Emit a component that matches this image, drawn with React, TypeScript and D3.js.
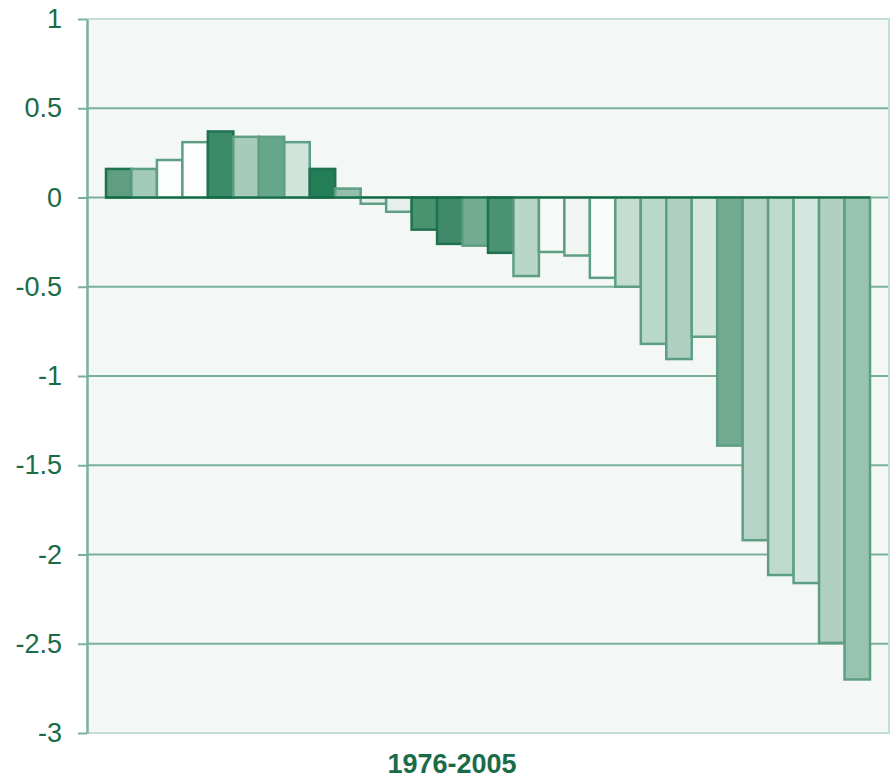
import React, { useEffect, useRef } from "react";
import { axisLeft, range, scaleBand, scaleLinear, select } from "d3";

// data
const years = range(1976, 2006).map(String);
const values = [
  0.16, 0.16, 0.21, 0.31, 0.37, 0.34, 0.34, 0.31, 0.16, 0.05,
  -0.035, -0.08, -0.18, -0.26, -0.27, -0.31, -0.44, -0.305, -0.325, -0.45,
  -0.5, -0.82, -0.905, -0.78, -1.39, -1.92, -2.115, -2.16, -2.495, -2.7,
];
const yTicks = [1, 0.5, 0, -0.5, -1, -1.5, -2, -2.5, -3];
const periodLabel = "1976-2005";

// palette (one fill per bar, as in the original graphic)
const fills = [
  "#5f9e80", "#a3c9b8", "#fcfefd", "#fcfefd", "#3a8a68", "#a7cbbb", "#66a68a", "#d0e4db", "#237e58", "#95bfac",
  "#e5efeb", "#e6efeb", "#4a936f", "#40896a", "#70ab92", "#4a9272", "#b8d6c9", "#f5f9f7", "#f0f5f3", "#fafcfb",
  "#c4ddd3", "#bad7cb", "#aecfc1", "#d5e6df", "#71aa91", "#b5d3c6", "#bed9ce", "#d4e6e0", "#b0d0c3", "#98c3b0",
];
const darkEdge = new Set([0, 4, 8, 12, 13, 15]);

const App = () => {
  const ref = useRef<SVGSVGElement>(null);

  useEffect(() => {
    const svg = select(ref.current);
    svg.selectAll("*").remove();

    const plot = { left: 87, right: 889, top: 19, bottom: 733 };
    const grid = "#7ab09a";
    const light = "#c6ddd4";
    const ink = "#1a6b48";

    const y = scaleLinear().domain([-3, 1]).range([plot.bottom, plot.top]);
    const x = scaleBand<string>().domain(years).range([106, 870]).padding(0);

    svg
      .append("rect")
      .attr("x", plot.left)
      .attr("y", plot.top)
      .attr("width", plot.right - plot.left)
      .attr("height", plot.bottom - plot.top)
      .attr("fill", "#f3f7f6");

    // gridlines
    svg
      .append("g")
      .selectAll("line")
      .data(yTicks.filter((t) => t !== 1 && t !== -3))
      .join("line")
      .attr("x1", plot.left)
      .attr("x2", plot.right)
      .attr("y1", (d) => y(d))
      .attr("y2", (d) => y(d))
      .attr("stroke", grid)
      .attr("stroke-width", 2);

    // frame (light top, right, bottom)
    svg
      .append("path")
      .attr(
        "d",
        `M${plot.left},${plot.top}H${plot.right}V${plot.bottom}H${plot.left}`
      )
      .attr("fill", "none")
      .attr("stroke", light)
      .attr("stroke-width", 2);

    // bars
    svg
      .append("g")
      .selectAll("rect")
      .data(values)
      .join("rect")
      .attr("x", (d, i) => x(years[i])!)
      .attr("width", x.bandwidth())
      .attr("y", (d) => y(Math.max(0, d)))
      .attr("height", (d) => Math.abs(y(d) - y(0)))
      .attr("fill", (d, i) => fills[i])
      .attr("stroke", (d, i) => (darkEdge.has(i) ? "#1f7150" : "#5e9f84"))
      .attr("stroke-width", 2.5);

    // zero line across the bars
    svg
      .append("line")
      .attr("x1", x(years[0])!)
      .attr("x2", x(years[years.length - 1])! + x.bandwidth())
      .attr("y1", y(0))
      .attr("y2", y(0))
      .attr("stroke", "#0f6a45")
      .attr("stroke-width", 2);

    // y axis
    const ax = svg
      .append("g")
      .attr("transform", `translate(${plot.left},0)`)
      .call(
        axisLeft(y)
          .tickValues(yTicks)
          .tickSize(9)
          .tickSizeOuter(0)
          .tickPadding(16)
          .tickFormat((d) => String(d))
      );
    ax.select(".domain").attr("stroke", grid).attr("stroke-width", 2.5);
    ax.selectAll(".tick line").attr("stroke", grid).attr("stroke-width", 2);
    ax.selectAll(".tick text")
      .attr("fill", ink)
      .attr("font-family", "Liberation Sans, Arial, sans-serif")
      .attr("font-size", 27);

    svg
      .append("text")
      .attr("x", 452)
      .attr("y", 773)
      .attr("text-anchor", "middle")
      .attr("fill", ink)
      .attr("font-family", "Liberation Sans, Arial, sans-serif")
      .attr("font-weight", "bold")
      .attr("font-size", 27)
      .text(periodLabel);
  }, []);

  return (
    <div style={{ position: "absolute", left: 0, top: 0, background: "#fff" }}>
      <svg ref={ref} width={894} height={778}></svg>
    </div>
  );
};

export default App;
